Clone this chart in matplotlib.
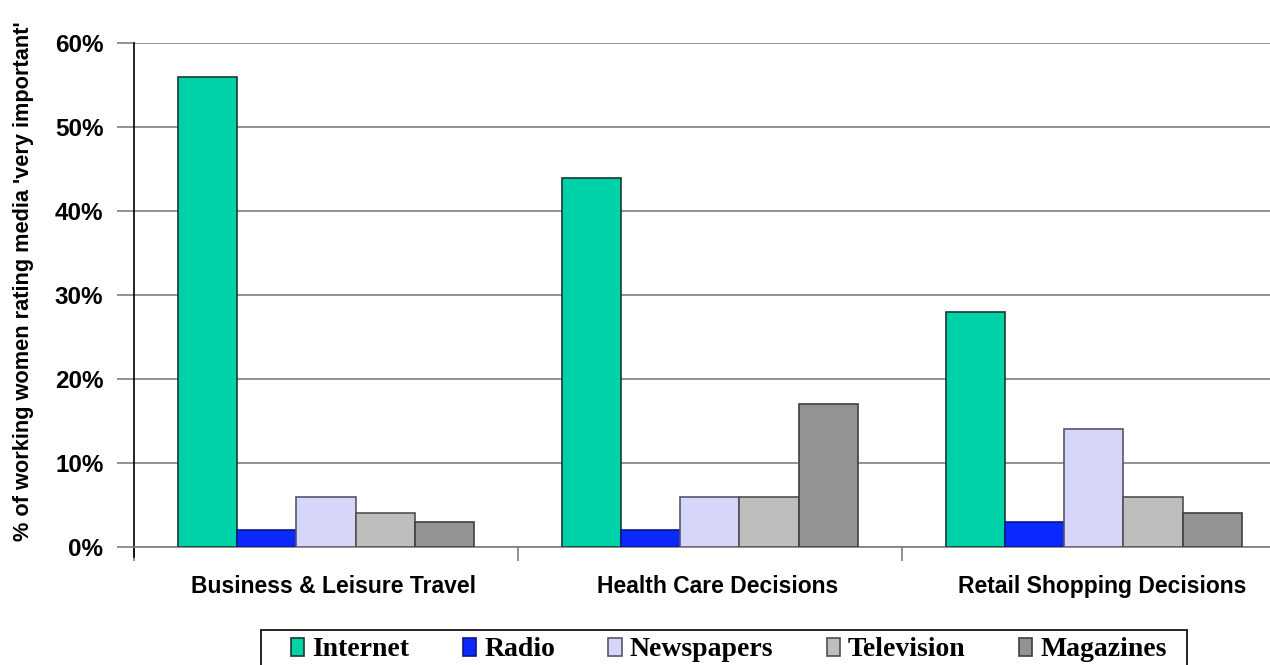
import numpy as np
import matplotlib.pyplot as plt
import matplotlib.transforms as mtransforms
from matplotlib.patches import Rectangle
from matplotlib.ticker import FuncFormatter

categories = ["Business & Leisure Travel", "Health Care Decisions", "Retail Shopping Decisions"]
media = ["Internet", "Radio", "Newspapers", "Television", "Magazines"]
internet = [56, 44, 28]
radio = [2, 2, 3]
newspapers = [6, 6, 14]
television = [4, 6, 6]
magazines = [3, 17, 4]

colors = ["#00D2A8", "#0A28FF", "#D6D6FA", "#BEBFBD", "#939393"]
edges = ["#1a3a33", "#0a1a80", "#55556a", "#505050", "#404040"]

fig = plt.figure(figsize=(12.7, 6.65), dpi=100)
ax = fig.add_axes([0.1055, 0.1774, 0.907, 0.7576])

x = np.arange(len(categories))
width = 0.154
series = [internet, radio, newspapers, television, magazines]
for i, vals in enumerate(series):
    ax.bar(x + (i - 2) * width, vals, width, color=colors[i], edgecolor=edges[i],
           linewidth=1.2, label=media[i], zorder=3)

ax.set_xlim(-0.5, 2.5)
ax.set_ylim(0, 60)
ax.set_yticks(range(0, 61, 10))
ax.yaxis.set_major_formatter(FuncFormatter(lambda v, p: "%d%%" % v))
ax.grid(axis="y", color="#7f7f7f", linewidth=1.2, zorder=0)
ax.tick_params(axis="y", length=12, width=1.2, color="#7f7f7f", pad=10, labelsize=17.5)
for lbl in ax.get_yticklabels():
    lbl.set_fontweight("bold")
    lbl.set_fontfamily("Liberation Sans")

ax.set_xticks(x)
ax.set_xticklabels(categories, fontsize=16.5, fontweight="bold", fontfamily="Liberation Sans")
ax.set_xticks([-0.5, 0.5, 1.5, 2.5], minor=True)
ax.tick_params(axis="x", which="major", length=0, pad=20)
ax.tick_params(axis="x", which="minor", length=10, width=1.2, color="#7f7f7f")
shift = mtransforms.ScaledTranslation(0.08, 0, fig.dpi_scale_trans)
for lbl in ax.get_xticklabels():
    lbl.set_transform(lbl.get_transform() + shift)

for s in ["top", "right"]:
    ax.spines[s].set_visible(False)
ax.spines["bottom"].set_color("#7f7f7f")
ax.spines["bottom"].set_linewidth(1.2)
ax.spines["left"].set_color("black")
ax.spines["left"].set_linewidth(1.2)
ax.spines["left"].set_bounds(-1.2, 60)
ax.spines["left"].set_clip_on(False)

ax.set_ylabel("% of working women rating media 'very important'", fontsize=15.7,
              fontweight="bold", fontfamily="Liberation Sans")
ax.yaxis.set_label_coords(-0.087, 0.528)

# legend box runs off the bottom edge of the figure
fig.patches.append(Rectangle((261 / 1270, -0.05), 926 / 1270, 0.05 + 35 / 665,
                             transform=fig.transFigure, facecolor="white",
                             edgecolor="black", linewidth=1.2, zorder=1))
leg = fig.legend(loc="center", bbox_to_anchor=(729 / 1270, 1 - 650 / 665), ncol=5,
                 frameon=False, borderpad=0, borderaxespad=0,
                 handlelength=0.47, handleheight=0.6, handletextpad=0.3,
                 columnspacing=1.92,
                 prop={"family": "Liberation Serif", "weight": "bold", "size": 20})
leg.set_zorder(2)

fig.savefig("out.png", dpi=100)
